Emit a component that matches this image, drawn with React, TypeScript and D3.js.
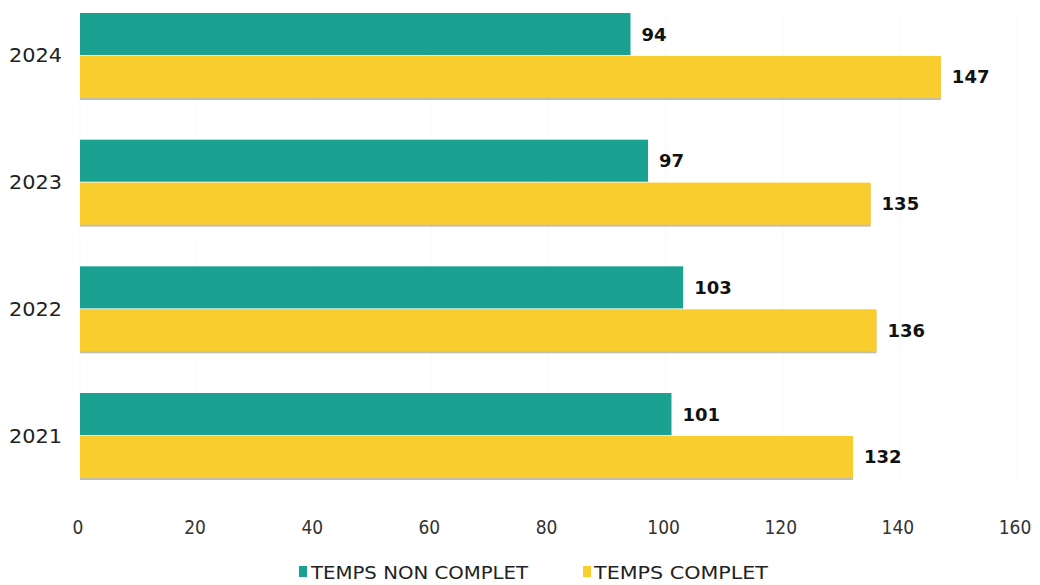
import React from "react";
import * as d3 from "d3";

const years = ["2024", "2023", "2022", "2021"];
const nonComplet = [94, 97, 103, 101];
const complet = [147, 135, 136, 132];
const xTicks = [0, 20, 40, 60, 80, 100, 120, 140, 160];
const seriesNames = ["TEMPS NON COMPLET", "TEMPS COMPLET"];

const W = 1040;
const H = 585;
const TEAL = "#1ba192";
const YELLOW = "#f9cd2e";

export default function App() {
  const x = d3.scaleLinear().domain([0, 160]).range([80, 1017]);
  const y = d3.scaleBand<string>().domain(years).range([13, 478]).paddingInner(0.329).paddingOuter(0);
  const sub = d3.scaleBand<string>().domain(["nc", "c"]).range([0, y.bandwidth()]).paddingInner(0.02);
  const cond = "'DejaVu Sans Condensed', 'DejaVu Sans', sans-serif";

  return (
    <svg width={W} height={H} style={{ position: "absolute", left: 0, top: 0, background: "#fff" }}>
      {xTicks.map((t) => (
        <line key={"g" + t} x1={x(t)} x2={x(t)} y1={13} y2={478} stroke="#f2f2f2" strokeWidth={0.5} />
      ))}
      {years.map((yr, i) => {
        const y0 = y(yr)!;
        const ync = y0 + sub("nc")!;
        const yc = y0 + sub("c")!;
        const bh = sub.bandwidth();
        return (
          <g key={yr}>
            <rect x={x(0)} y={yc + 2} width={x(complet[i]) - x(0)} height={bh} fill="#a8a490" opacity={0.7} />
            <rect x={x(0)} y={ync} width={x(nonComplet[i]) - x(0)} height={bh} fill={TEAL} />
            <rect x={x(0)} y={yc} width={x(complet[i]) - x(0)} height={bh} fill={YELLOW} />
            <text x={62} y={y0 + y.bandwidth() / 2} textAnchor="end" dominantBaseline="central"
              fontFamily="'DejaVu Sans', sans-serif" fontSize={19} fill="#222"
              textLength={53} lengthAdjust="spacingAndGlyphs">{yr}</text>
            <text x={x(nonComplet[i]) + 11} y={ync + bh / 2} dominantBaseline="central"
              fontFamily="'DejaVu Sans', sans-serif" fontWeight="bold" fontSize={18} fill="#111">{nonComplet[i]}</text>
            <text x={x(complet[i]) + 11} y={yc + bh / 2} dominantBaseline="central"
              fontFamily="'DejaVu Sans', sans-serif" fontWeight="bold" fontSize={18} fill="#111">{complet[i]}</text>
          </g>
        );
      })}
      {xTicks.map((t) => (
        <text key={"t" + t} x={x(t) - 2} y={527} textAnchor="middle" dominantBaseline="central"
          fontFamily={cond} fontStretch="condensed" fontSize={19} fill="#333">{t}</text>
      ))}
      <g>
        <rect x={299} y={566} width={8} height={11} fill={TEAL} />
        <text x={311} y={572} dominantBaseline="central" fontFamily={cond}
          fontStretch="condensed" fontSize={18} fill="#222" textLength={217} lengthAdjust="spacingAndGlyphs">{seriesNames[0]}</text>
        <rect x={583} y={566} width={8} height={11} fill={YELLOW} />
        <text x={594} y={572} dominantBaseline="central" fontFamily={cond}
          fontStretch="condensed" fontSize={18} fill="#222" textLength={174} lengthAdjust="spacingAndGlyphs">{seriesNames[1]}</text>
      </g>
    </svg>
  );
}
